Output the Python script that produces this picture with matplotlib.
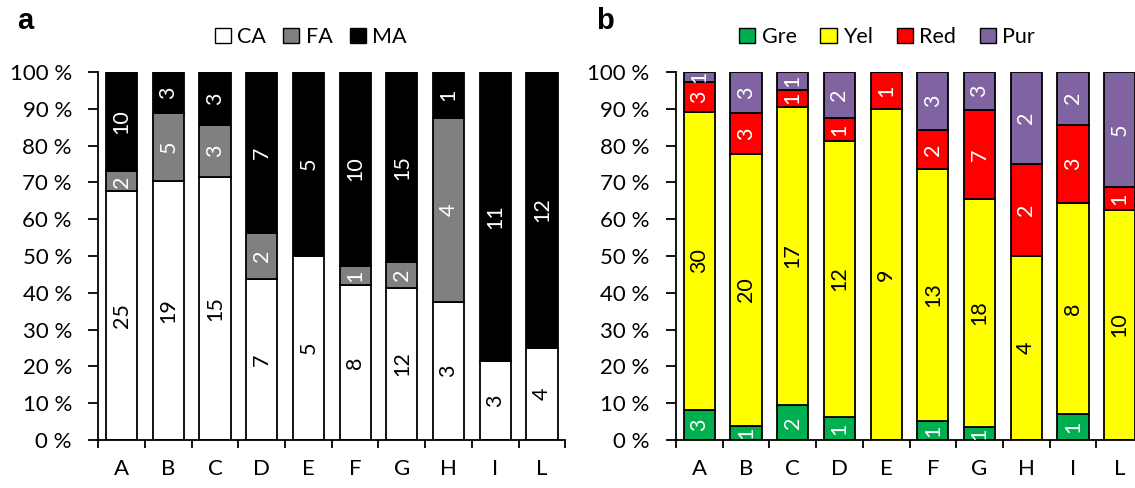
import matplotlib
matplotlib.use("Agg")
import matplotlib.pyplot as plt
import numpy as np
from matplotlib.patches import Patch

plt.rcParams['font.family'] = ['Lato', 'DejaVu Sans']

categories = ["A", "B", "C", "D", "E", "F", "G", "H", "I", "L"]

# Panel a counts
ca = [25, 19, 15, 7, 5, 8, 12, 3, 3, 4]
fa = [2, 5, 3, 2, 0, 1, 2, 4, 0, 0]
ma = [10, 3, 3, 7, 5, 10, 15, 1, 11, 12]

# Panel b counts
gre = [3, 1, 2, 1, 0, 1, 1, 0, 1, 0]
yel = [30, 20, 17, 12, 9, 13, 18, 4, 8, 10]
red = [3, 3, 1, 1, 1, 2, 7, 2, 3, 1]
pur = [1, 3, 1, 2, 0, 3, 3, 2, 2, 5]

yticks = [i / 10 for i in range(11)]
ytick_labels = [f"{i * 10} %" for i in range(11)]

W, H = 1135, 488
fig = plt.figure(figsize=(W / 100, H / 100), dpi=100)

ax_bottom = (H - 440) / H
ax_height = (440 - 72) / H
ax_width = 467 / W
axa = fig.add_axes([98.3 / W, ax_bottom, ax_width, ax_height])
axb = fig.add_axes([676 / W, ax_bottom, ax_width, ax_height])

FS = 16
LFS = 15.5
LEGFS = 15.5


def stacked(ax, series, names, colors, txtcolors, legend_x, colspace):
    x = np.arange(len(categories))
    arr = np.array(series, dtype=float)
    tot = arr.sum(axis=0)
    frac = arr / tot
    bottom = np.zeros(len(categories))
    for vals, f, name, col, tc in zip(arr, frac, names, colors, txtcolors):
        ax.bar(x, f, 0.67, bottom=bottom, color=col, edgecolor='black',
               linewidth=1.3, label=name, zorder=2)
        for i in range(len(categories)):
            if vals[i] > 0:
                ax.text(x[i], bottom[i] + f[i] / 2, f"{int(vals[i])}",
                        rotation=90, ha='center', va='center',
                        color=tc, fontsize=LFS, zorder=3)
        bottom = bottom + f
    ax.set_xlim(-0.5, len(categories) - 0.5)
    ax.set_ylim(0, 1)
    ax.set_yticks(yticks)
    ax.set_yticklabels(ytick_labels, fontsize=FS)
    ax.set_xticks(np.arange(len(categories) + 1) - 0.5)
    ax.set_xticklabels([])
    ax.set_xticks(x, minor=True)
    ax.set_xticklabels(categories, minor=True, fontsize=FS)
    ax.tick_params(axis='x', which='major', length=6, width=1.3, direction='out')
    ax.tick_params(axis='x', which='minor', length=0, pad=14)
    ax.tick_params(axis='y', length=7, width=1.3, pad=12)
    for s in ['top', 'right']:
        ax.spines[s].set_visible(False)
    for s in ['left', 'bottom']:
        ax.spines[s].set_linewidth(1.3)
        ax.spines[s].set_color('black')
    handles = [Patch(facecolor=c, edgecolor='black', linewidth=1.0) for c in colors]
    ax.legend(handles, names, loc='center', bbox_to_anchor=(legend_x, 1.095),
              ncol=len(names), frameon=False, fontsize=LEGFS, handlelength=0.75,
              handleheight=0.75, handletextpad=0.3, columnspacing=colspace,
              borderaxespad=0)


stacked(axa, [ca, fa, ma], ["CA", "FA", "MA"],
        ['white', '#808080', 'black'], ['black', 'white', 'white'], 0.455, 0.8)
stacked(axb, [gre, yel, red, pur], ["Gre", "Yel", "Red", "Pur"],
        ['#00B050', '#FFFF00', '#FF0000', '#8064A2'],
        ['white', 'black', 'white', 'white'], 0.452, 1.1)

fig.text(17 / W, 1 - 21 / H, "a", fontsize=21, fontweight='bold', ha='left', va='center',
         family=['Liberation Sans', 'DejaVu Sans'])
fig.text(596 / W, 1 - 21 / H, "b", fontsize=21, fontweight='bold', ha='left', va='center',
         family=['Liberation Sans', 'DejaVu Sans'])

fig.savefig("out.png", dpi=100)
